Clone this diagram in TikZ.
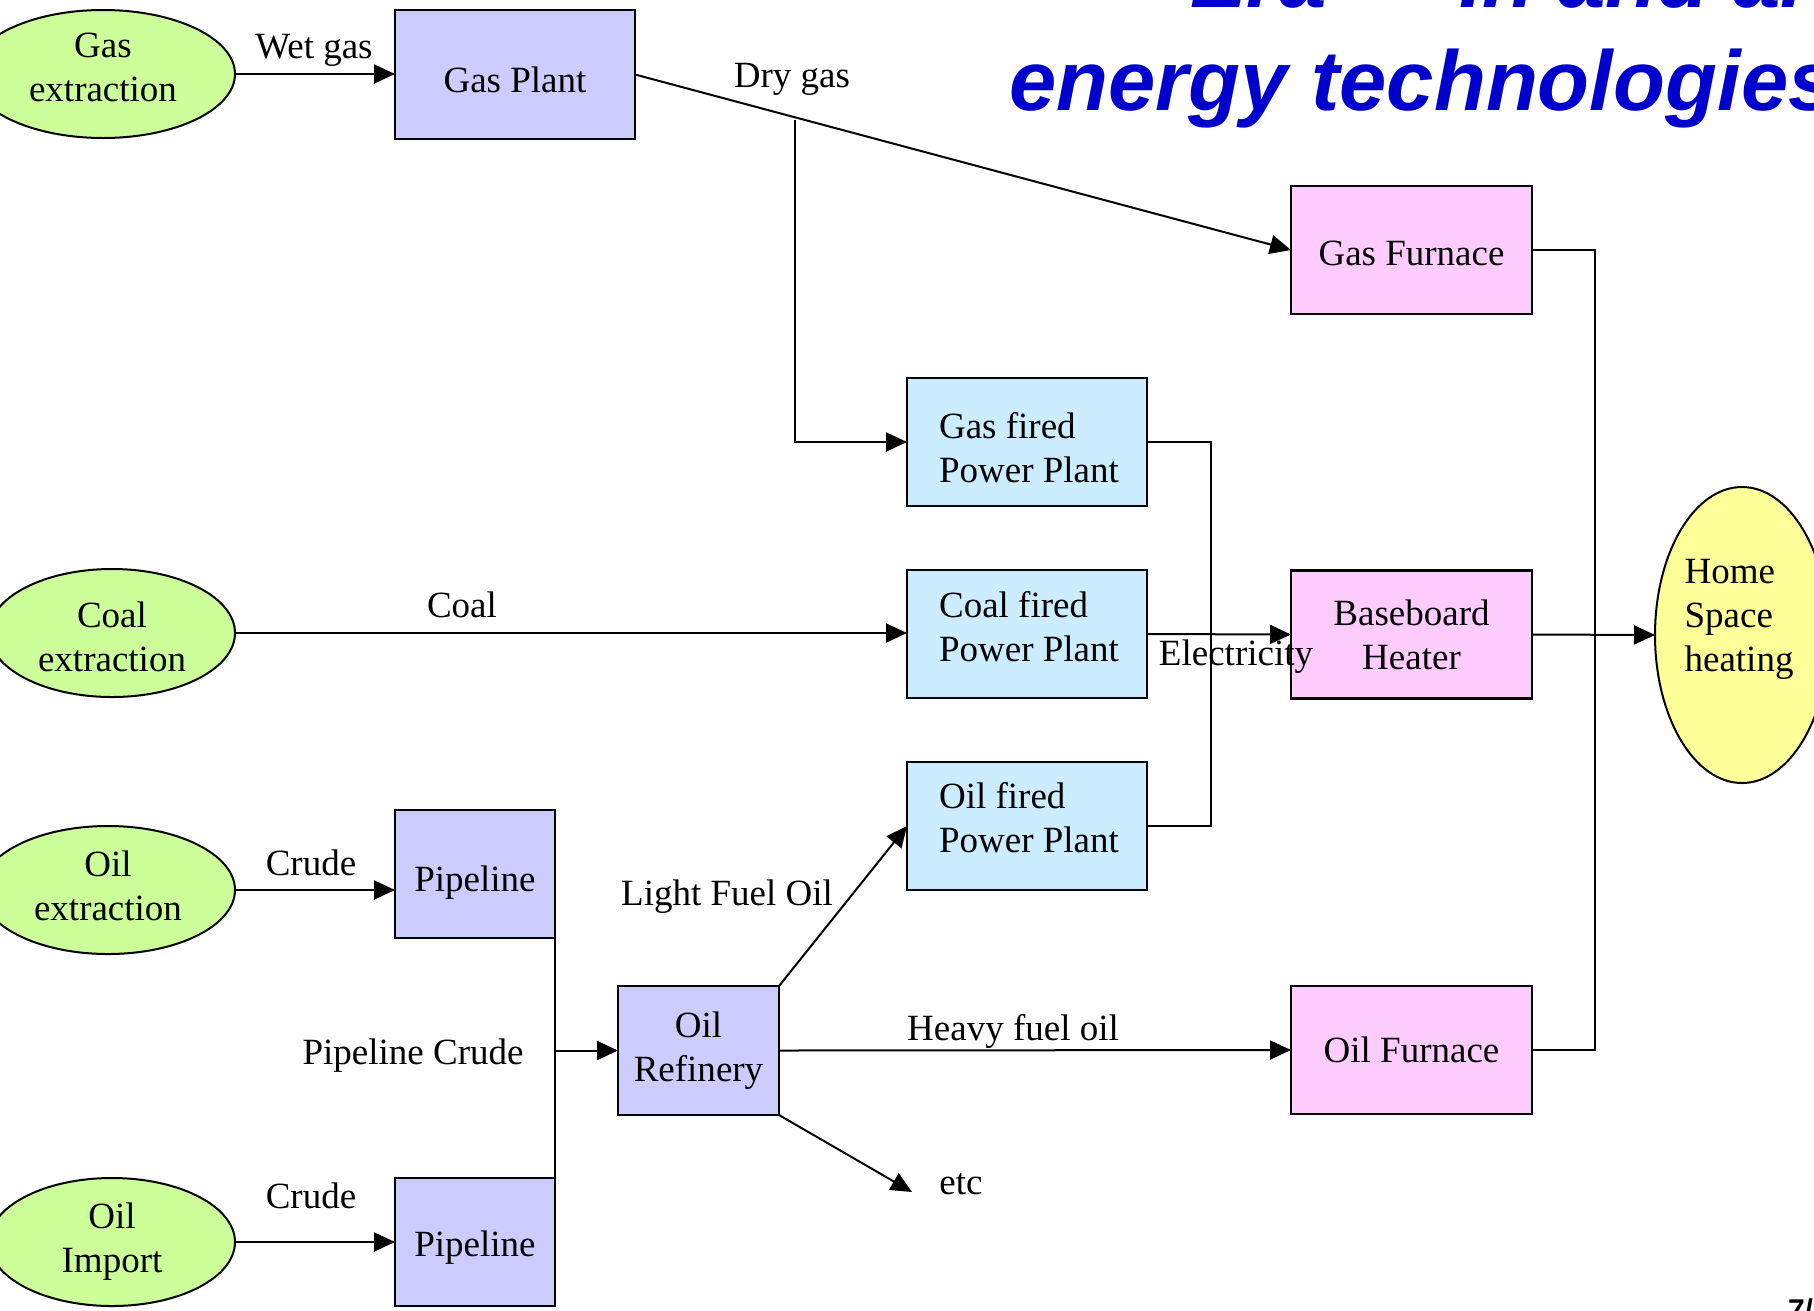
\documentclass[tikz,border=0pt]{standalone}
\usepackage{fontspec}
\setmainfont{Liberation Serif}
\newfontfamily\titlefam{Liberation Sans}
\usetikzlibrary{arrows.meta,shapes.geometric,calc}
\definecolor{srcgreen}{HTML}{CCFF99}
\definecolor{lavender}{HTML}{CCCCFF}
\definecolor{plantblue}{HTML}{CCECFF}
\definecolor{heatpink}{HTML}{FFCCFF}
\definecolor{homeyellow}{HTML}{FFFF99}
\definecolor{titleblue}{HTML}{0000CC}
% lower (negative) or raise (positive) a text line inside its node without changing the node size
\newcommand\mvln[2]{\raisebox{#1}[\height][\depth]{#2}}
\begin{document}
\begin{tikzpicture}[x=1pt,y=-1pt,
  every node/.style={font=\fontsize{37}{44}\selectfont, inner sep=0pt, outer sep=0pt},
  src/.style={ellipse, draw, line width=2pt, fill=srcgreen, minimum height=128pt, align=center},
  procbox/.style={rectangle, draw, line width=2.4pt, minimum height=128pt, align=center},
  midbox/.style={procbox, fill=lavender},
  plantbox/.style={procbox, fill=plantblue, minimum width=240pt, align=left},
  heatbox/.style={procbox, fill=heatpink, minimum width=241pt},
  flow/.style={line width=2pt, -{Triangle[length=21pt,width=19pt]}},
  plainline/.style={line width=2pt},
  titletext/.style={font=\titlefam\bfseries\itshape\fontsize{85}{100}\selectfont, text=titleblue}
]
\useasboundingbox (0,0) rectangle (1814,1310);
\clip (0,0) rectangle (1814,1310);

% title (cut off by the page edge, as in the slide)
\node[titletext, anchor=base west] (title1) at (1190,7) {Era — In and around};
\node[titletext, anchor=base west] (title2) at (1009,110) {energy technologies};
\node[anchor=north west, font=\titlefam\bfseries\fontsize{30}{36}\selectfont] (pagenum) at (1788,1299) {7/};

% sources
\node[src, minimum width=264pt] (gasx) at (103,74) {\mvln{7pt}{Gas}\\\mvln{7pt}{extraction}};
\node[src, minimum width=246pt] (coalx) at (112,633) {\mvln{-4pt}{Coal}\\\mvln{-4pt}{extraction}};
\node[src, minimum width=254pt] (oilx) at (108,890) {\mvln{4pt}{Oil}\\\mvln{4pt}{extraction}};
\node[src, minimum width=246pt] (oilimp) at (112,1242) {Oil\\Import};

% intermediate processes
\node[midbox, minimum width=240pt, minimum height=129pt] (gasplant) at (515,74.5) {\mvln{-5pt}{Gas Plant}};
\node[midbox, minimum width=160pt] (pipe1) at (475,874) {\mvln{-9pt}{Pipeline}};
\node[midbox, minimum width=160pt] (pipe2) at (475,1242) {\mvln{-6pt}{Pipeline}};
\node[midbox, minimum width=161pt, minimum height=129pt] (refinery) at (698.5,1050.5) {Oil\\Refinery};

% power plants
\node[plantbox] (gaspp) at (1027,442) {\mvln{-6pt}{\hspace{4pt}Gas fired}\\\mvln{-6pt}{\hspace{4pt}Power Plant}};
\node[plantbox] (coalpp) at (1027,634) {\mvln{7pt}{\hspace{4pt}Coal fired}\\\mvln{7pt}{\hspace{4pt}Power Plant}};
\node[plantbox] (oilpp) at (1027,826) {\mvln{8pt}{\hspace{4pt}Oil fired}\\\mvln{8pt}{\hspace{4pt}Power Plant}};

% heating devices
\node[heatbox] (gasfurn) at (1411.5,250) {\mvln{-3pt}{Gas Furnace}};
\node[heatbox] (base) at (1411.5,634.5) {Baseboard\\Heater};
\node[heatbox] (oilfurn) at (1411.5,1050) {Oil Furnace};

% demand
\node[ellipse, draw, line width=2pt, fill=homeyellow, minimum width=174pt, minimum height=296pt] (home) at (1742,635) {};
\node[align=left] (hometext) at (1739,619) {Home\\Space\\heating};

% junction coordinates
\coordinate (drybr) at (795,120);
\coordinate (ebus) at (1211,634);
\coordinate (fbus) at (1595,634);
\coordinate (etcend) at (912,1192);

% connectors
\draw[flow] (gasx.east) -- (gasx.east -| gasplant.west);
\draw[flow] (gasplant.east) -- (gasfurn.west);
\draw[flow] (drybr) |- (gaspp.west);
\draw[flow] (coalx.east) -- (coalx.east -| coalpp.west);
\draw[plainline] (gaspp.east) -| (ebus) |- (oilpp.east);
\draw[flow] (coalpp.east) -- (base.west);
\draw[plainline] (gasfurn.east) -| (fbus) |- (oilfurn.east);
\draw[flow] (base.east) -- (home.west);
\draw[flow] (oilx.east) -- (oilx.east -| pipe1.west);
\draw[flow] (oilimp.east) -- (oilimp.east -| pipe2.west);
\draw[plainline] (pipe1.south east) -- (pipe2.north east);
\draw[flow] (refinery.west -| pipe1.east) -- (refinery.west);
\draw[flow] (refinery.north east) -- (oilpp.west);
\draw[flow] (refinery.east) -- (oilfurn.west);
\draw[flow] (refinery.south east) -- (etcend);

% labels
\node (lwet) at (314,50) {Wet gas};
\node (ldry) at (792,79) {Dry gas};
\node (lcoal) at (462,605) {Coal};
\node (lelec) at (1236,657) {Electricity};
\node (lcrude1) at (311,863) {Crude};
\node (lcrude2) at (311,1196) {Crude};
\node (lpipe) at (413,1056) {Pipeline Crude};
\node (llight) at (727,897) {Light Fuel Oil};
\node (lheavy) at (1013,1031) {Heavy fuel oil};
\node (letc) at (961,1184) {etc};
\end{tikzpicture}
\end{document}
